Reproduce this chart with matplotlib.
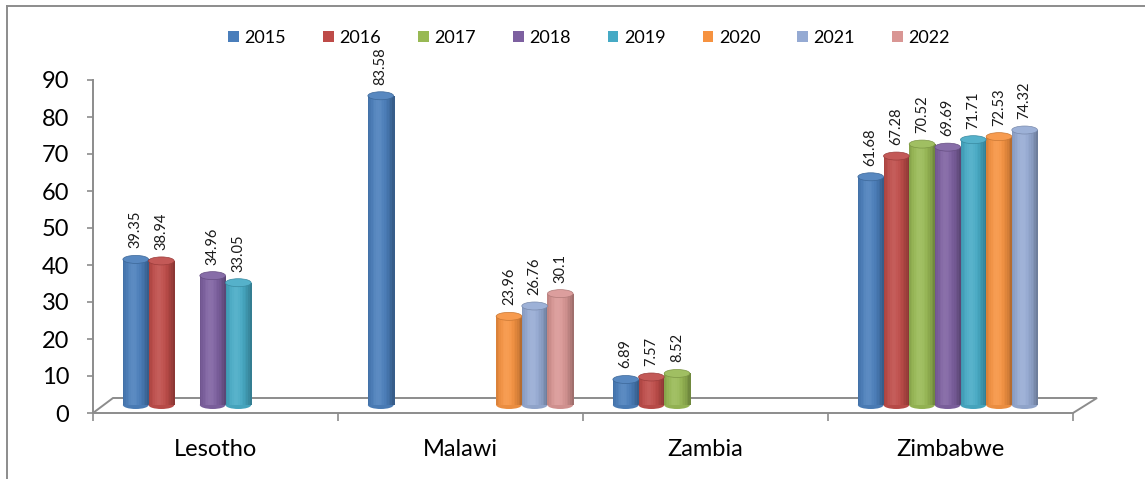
import numpy as np
import matplotlib
matplotlib.use('Agg')
import matplotlib.pyplot as plt
import matplotlib.transforms as mtransforms
from matplotlib.patches import Rectangle, Ellipse, Patch, Polygon
from matplotlib.lines import Line2D
from matplotlib.colors import to_rgb

plt.rcParams['font.family'] = ['Lato', 'DejaVu Sans']

nan = np.nan
countries = ['Lesotho', 'Malawi', 'Zambia', 'Zimbabwe']
years = ['2015', '2016', '2017', '2018', '2019', '2020', '2021', '2022']
colors = ['#4A7EBB', '#BE4B48', '#98B954', '#7D60A0',
          '#46AAC5', '#F69240', '#95AAD3', '#D99694']

lesotho = [39.35, 38.94, nan, 34.96, 33.05, nan, nan, nan]
malawi = [83.58, nan, nan, nan, nan, 23.96, 26.76, 30.1]
zambia = [6.89, 7.57, 8.52, nan, nan, nan, nan, nan]
zimbabwe = [61.68, 67.28, 70.52, 69.69, 71.71, 72.53, 74.32, nan]
values = [lesotho, malawi, zambia, zimbabwe]

grey = '#8c8c8c'


def shade(c, t):
    # cylinder lighting: faint highlight left of centre, darker edges
    rgb = np.array(to_rgb(c))
    h = 0.10 * np.exp(-((t - 0.4) / 0.22) ** 2)
    d = 0.30 * (abs(t - 0.42) / 0.58) ** 2.5
    rgb = rgb + (1 - rgb) * h
    return np.clip(rgb * (1 - d), 0, 1)


fig = plt.figure(figsize=(11.45, 4.79), dpi=100)
W, H = 1145, 479
ax = fig.add_axes([93 / W, 66 / H, 980 / W, 333 / H])
ax.set_xlim(-0.5, 3.5)
ax.set_ylim(0, 90)

# columns sit half way back on the floor
shift = mtransforms.offset_copy(ax.transData, fig=fig, x=10, y=8, units='dots')

# floor outline
px_x = 980 / 4.0
px_y = 333 / 90.0
back = 15 / px_y
floor = [(-0.5, 0), (-0.5 + 20 / px_x, back), (3.5 + 24 / px_x, back), (3.5, 0)]
ax.add_patch(Polygon(floor, closed=False, fill=False, edgecolor=grey, lw=1.4,
                     clip_on=False, zorder=1))

bw = 0.1047
eh = 8 / px_y
nstrip = 16
for i, vals in enumerate(values):
    for j, v in enumerate(vals):
        if np.isnan(v):
            continue
        c = colors[j]
        x0 = i + (j - 4) * bw
        xc = x0 + bw / 2
        ax.add_patch(Ellipse((xc, 0), bw, eh, facecolor=shade(c, 0.7),
                             edgecolor='none', transform=shift, clip_on=False, zorder=2))
        dw = bw / nstrip
        for k in range(nstrip):
            t = (k + 0.5) / nstrip
            ax.add_patch(Rectangle((x0 + k * dw, 0), dw * 1.6, v,
                                   facecolor=shade(c, t), edgecolor='none',
                                   antialiased=False, transform=shift,
                                   clip_on=False, zorder=2))
        top = np.array(to_rgb(c))
        top = top + (1 - top) * 0.08
        ax.add_patch(Ellipse((xc, v), bw, eh, facecolor=top,
                             edgecolor=shade(c, 0.9), lw=0.5,
                             transform=shift, clip_on=False, zorder=3))
        ax.annotate(f'{v:g}', xy=(xc, v), xycoords=shift, xytext=(0, 8),
                    textcoords='offset points', rotation=90, ha='center',
                    va='bottom', fontsize=10.5, color='#1a1a1a')

for s in ['top', 'right']:
    ax.spines[s].set_visible(False)
for s in ['left', 'bottom']:
    ax.spines[s].set_color(grey)
    ax.spines[s].set_linewidth(1.4)

ax.set_yticks(range(0, 91, 10))
ax.tick_params(axis='y', length=4, width=1.2, color=grey, pad=13,
               labelsize=17, labelcolor='black')
ax.set_xticks(range(4))
ax.set_xticklabels(countries)
ax.set_xticks([-0.5, 0.5, 1.5, 2.5, 3.5], minor=True)
ax.tick_params(axis='x', which='major', length=0, pad=19, labelsize=17)
ax.tick_params(axis='x', which='minor', length=6, width=1.2, color=grey)

handles = [Patch(facecolor=c, edgecolor='none') for c in colors]
fig.legend(handles, years, loc='center', bbox_to_anchor=(589 / W, 1 - 38 / H),
           ncol=8, frameon=False, fontsize=13, handlelength=0.6,
           handleheight=0.6, handletextpad=0.3, columnspacing=2.05)

# chart area border (left and top edges)
fig.add_artist(Line2D([7 / W, 7 / W], [0, 1 - 6 / H], transform=fig.transFigure,
                      color=grey, lw=1.4))
fig.add_artist(Line2D([7 / W, 1], [1 - 6 / H, 1 - 6 / H], transform=fig.transFigure,
                      color=grey, lw=1.4))

fig.savefig('out.png', dpi=100)
